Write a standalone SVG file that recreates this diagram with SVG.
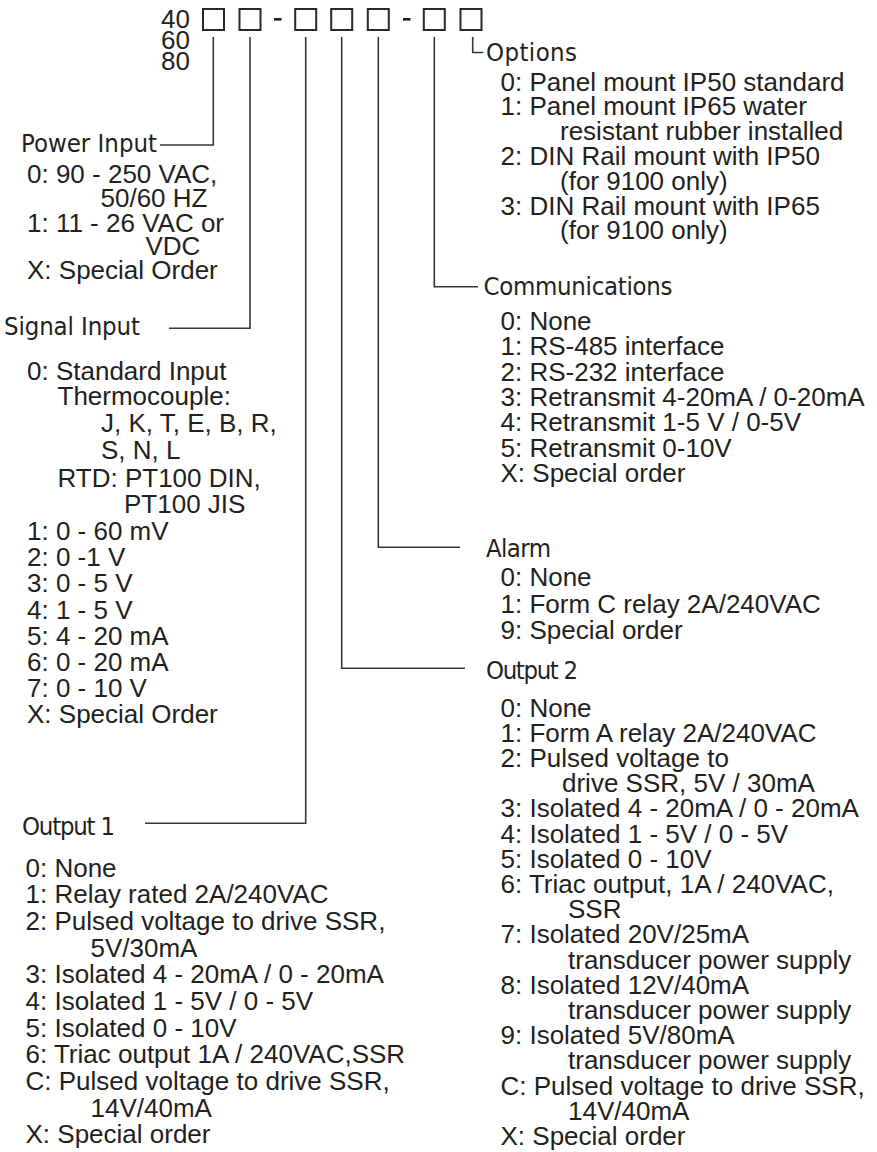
<svg xmlns="http://www.w3.org/2000/svg" width="877" height="1152" viewBox="0 0 877 1152">
<style>
.t{font-family:"Liberation Sans",Arial,Helvetica,sans-serif;font-size:26px;fill:#231f20}
.h{font-family:"Liberation Sans Narrow","DejaVu Sans Condensed","Arial Narrow",sans-serif;font-size:25.5px;fill:#231f20}
.c{fill:none;stroke:#3b3735;stroke-width:1.6}
.b{fill:none;stroke:#2b2727;stroke-width:2}
</style>
<rect width="877" height="1152" fill="#ffffff"/>
<g id="code">
<text class="t" font-size="25"><tspan x="161" y="28">40</tspan><tspan x="161" y="49">60</tspan><tspan x="161" y="70">80</tspan></text>
<rect class="b" x="203" y="9" width="21" height="21"/>
<rect class="b" x="239.5" y="9" width="21" height="21"/>
<rect x="274" y="18" width="7.5" height="2.6" fill="#231f20"/>
<rect class="b" x="295.2" y="9" width="21" height="21"/>
<rect class="b" x="331.2" y="9" width="21" height="21"/>
<rect class="b" x="367.8" y="9" width="21" height="21"/>
<rect x="403" y="18" width="7.5" height="2.6" fill="#231f20"/>
<rect class="b" x="423.8" y="9" width="21" height="21"/>
<rect class="b" x="460.5" y="9" width="21" height="21"/>
</g>
<g id="connectors">
<polyline class="c" points="213.3,37 213.3,145 160,145"/>
<polyline class="c" points="250,37 250,328.3 169,328.3"/>
<polyline class="c" points="305.7,37 305.7,823.3 145,823.3"/>
<polyline class="c" points="341.7,37 341.7,668.3 465,668.3"/>
<polyline class="c" points="378.3,37 378.3,547.3 460,547.3"/>
<polyline class="c" points="434.3,37 434.3,286.7 478,286.7"/>
<polyline class="c" points="472.7,37 472.7,52.5 483.3,52.5"/>
</g>
<g id="options">
<text class="h" x="486" y="61" textLength="91" lengthAdjust="spacing">Options</text>
<text class="t">
<tspan x="500.5" y="90.5">0: Panel mount IP50 standard</tspan>
<tspan x="500.5" y="115.3">1: Panel mount IP65 water</tspan>
<tspan x="560" y="140.1">resistant rubber installed</tspan>
<tspan x="500.5" y="164.9">2: DIN Rail mount with IP50</tspan>
<tspan x="560" y="189.7">(for 9100 only)</tspan>
<tspan x="500.5" y="214.5">3: DIN Rail mount with IP65</tspan>
<tspan x="560" y="239.3">(for 9100 only)</tspan>
</text>
</g>
<g id="communications">
<text class="h" x="483.5" y="295" textLength="189" lengthAdjust="spacing">Communications</text>
<text class="t">
<tspan x="500.5" y="330">0: None</tspan>
<tspan x="500.5" y="355.3">1: RS-485 interface</tspan>
<tspan x="500.5" y="380.6">2: RS-232 interface</tspan>
<tspan x="500.5" y="405.9">3: Retransmit 4-20mA / 0-20mA</tspan>
<tspan x="500.5" y="431.2">4: Retransmit 1-5 V / 0-5V</tspan>
<tspan x="500.5" y="456.5">5: Retransmit 0-10V</tspan>
<tspan x="500.5" y="481.8">X: Special order</tspan>
</text>
</g>
<g id="alarm">
<text class="h" x="486" y="557" textLength="65" lengthAdjust="spacing">Alarm</text>
<text class="t">
<tspan x="500.5" y="586">0: None</tspan>
<tspan x="500.5" y="612.5">1: Form C relay 2A/240VAC</tspan>
<tspan x="500.5" y="639">9: Special order</tspan>
</text>
</g>
<g id="output2">
<text class="h" x="486" y="679.3" textLength="92" lengthAdjust="spacing">Output 2</text>
<text class="t">
<tspan x="500.5" y="716.5">0: None</tspan>
<tspan x="500.5" y="741.7">1: Form A relay 2A/240VAC</tspan>
<tspan x="500.5" y="766.9">2: Pulsed voltage to</tspan>
<tspan x="562" y="792.1">drive SSR, 5V / 30mA</tspan>
<tspan x="500.5" y="817.3">3: Isolated 4 - 20mA / 0 - 20mA</tspan>
<tspan x="500.5" y="842.5">4: Isolated 1 - 5V / 0 - 5V</tspan>
<tspan x="500.5" y="867.7">5: Isolated 0 - 10V</tspan>
<tspan x="500.5" y="892.9">6: Triac output, 1A / 240VAC,</tspan>
<tspan x="568" y="918.1">SSR</tspan>
<tspan x="500.5" y="943.3">7: Isolated 20V/25mA</tspan>
<tspan x="568" y="968.5">transducer power supply</tspan>
<tspan x="500.5" y="993.7">8: Isolated 12V/40mA</tspan>
<tspan x="568" y="1018.9">transducer power supply</tspan>
<tspan x="500.5" y="1044.1">9: Isolated 5V/80mA</tspan>
<tspan x="568" y="1069.3">transducer power supply</tspan>
<tspan x="500.5" y="1094.5">C: Pulsed voltage to drive SSR,</tspan>
<tspan x="568" y="1119.7">14V/40mA</tspan>
<tspan x="500.5" y="1144.9">X: Special order</tspan>
</text>
</g>
<g id="power-input">
<text class="h" x="21" y="152" textLength="136" lengthAdjust="spacing">Power Input</text>
<text class="t">
<tspan x="27" y="183">0: 90 - 250 VAC,</tspan>
<tspan x="100.5" y="207">50/60 HZ</tspan>
<tspan x="27" y="232">1: 11 - 26 VAC or</tspan>
<tspan x="145.5" y="255">VDC</tspan>
<tspan x="27" y="279">X: Special Order</tspan>
</text>
</g>
<g id="signal-input">
<text class="h" x="4" y="335" textLength="136" lengthAdjust="spacing">Signal Input</text>
<text class="t">
<tspan x="27" y="380">0: Standard Input</tspan>
<tspan x="57.5" y="405">Thermocouple:</tspan>
<tspan x="101" y="432">J, K, T, E, B, R,</tspan>
<tspan x="101" y="459">S, N, L</tspan>
<tspan x="57.5" y="487">RTD: PT100 DIN,</tspan>
<tspan x="124" y="513">PT100 JIS</tspan>
<tspan x="27" y="540">1: 0 - 60 mV</tspan>
<tspan x="27" y="566">2: 0 -1 V</tspan>
<tspan x="27" y="592">3: 0 - 5 V</tspan>
<tspan x="27" y="619">4: 1 - 5 V</tspan>
<tspan x="27" y="645">5: 4 - 20 mA</tspan>
<tspan x="27" y="671">6: 0 - 20 mA</tspan>
<tspan x="27" y="697">7: 0 - 10 V</tspan>
<tspan x="27" y="723">X: Special Order</tspan>
</text>
</g>
<g id="output1">
<text class="h" x="22" y="835" textLength="93" lengthAdjust="spacing">Output 1</text>
<text class="t">
<tspan x="25.5" y="876.7">0: None</tspan>
<tspan x="25.5" y="903.3">1: Relay rated 2A/240VAC</tspan>
<tspan x="25.5" y="930">2: Pulsed voltage to drive SSR,</tspan>
<tspan x="90.5" y="956.7">5V/30mA</tspan>
<tspan x="25.5" y="983.3">3: Isolated 4 - 20mA / 0 - 20mA</tspan>
<tspan x="25.5" y="1010">4: Isolated 1 - 5V / 0 - 5V</tspan>
<tspan x="25.5" y="1036.7">5: Isolated 0 - 10V</tspan>
<tspan x="25.5" y="1063.3">6: Triac output 1A / 240VAC,SSR</tspan>
<tspan x="25.5" y="1090">C: Pulsed voltage to drive SSR,</tspan>
<tspan x="90.5" y="1116.7">14V/40mA</tspan>
<tspan x="25.5" y="1143.3">X: Special order</tspan>
</text>
</g>
</svg>
